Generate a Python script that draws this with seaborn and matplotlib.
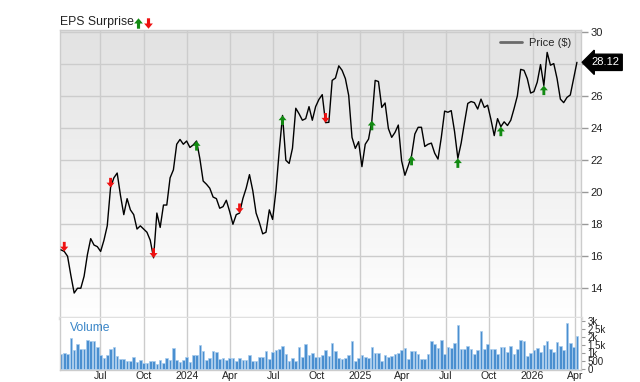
import numpy as np
import pandas as pd
import matplotlib
matplotlib.use("Agg")
import matplotlib.pyplot as plt
import matplotlib.dates as mdates
from matplotlib.path import Path
from matplotlib.lines import Line2D
from matplotlib.colors import LinearSegmentedColormap
from matplotlib.ticker import FuncFormatter
import seaborn as sns

# ---------------- data ----------------
start_date = "2023-04-09"
price = [
    16.4, 16.3, 16.0, 14.8, 13.7, 14.0, 14.0, 14.75, 16.1, 17.1,
    16.7, 16.6, 16.3, 17.0, 17.9, 20.3, 20.9, 21.2, 19.8, 18.6,
    19.6, 18.9, 18.6, 17.7, 17.9, 17.7, 17.5, 17.0, 15.9, 18.7,
    17.8, 19.2, 19.2, 20.9, 21.4, 23.0, 23.3, 23.0, 23.2, 22.8,
    22.96, 23.2, 22.1, 20.7, 20.5, 20.25, 19.7, 19.6, 19.0, 19.1,
    19.5, 18.8, 18.0, 18.6, 18.7, 19.6, 20.25, 21.1, 20.1, 18.7,
    18.1, 17.4, 17.5, 18.9, 18.3, 20.1, 22.6, 24.8, 22.0, 21.8,
    22.75, 25.25, 24.9, 24.5, 24.6, 25.35, 24.5, 25.35, 25.8, 26.1,
    24.35, 24.37, 26.99, 27.14, 27.9, 27.62, 27.1, 26.05, 23.43, 22.74,
    23.16, 21.6, 23.0, 23.32, 24.47, 26.99, 26.92, 25.3, 25.58, 23.98,
    23.43, 23.74, 24.2, 21.96, 21.06, 21.65, 22.28, 23.64, 24.06, 24.06,
    22.86, 23.0, 23.07, 22.44, 22.07, 23.43, 25.07, 25.0, 25.1, 23.8,
    22.12, 23.07, 24.34, 25.55, 25.67, 25.6, 25.2, 25.82, 25.3, 25.44,
    24.55, 23.54, 24.6, 24.1, 24.4, 24.17, 24.5, 25.23, 26.03, 27.68,
    27.62, 27.1, 26.2, 26.29, 26.88, 27.98, 26.67, 28.74, 27.94, 28.04,
    27.1, 25.82, 25.6, 25.93, 26.08, 27.1, 28.12,
]
volume_k = [
    0.94, 0.99, 0.94, 1.93, 1.19, 1.56, 1.25, 1.25, 1.81, 1.72,
    1.77, 1.38, 0.86, 0.70, 0.90, 1.25, 1.36, 0.84, 0.66, 0.62,
    0.49, 0.53, 0.76, 0.43, 0.57, 0.37, 0.37, 0.53, 0.53, 0.33,
    0.57, 0.37, 0.70, 0.55, 1.31, 0.57, 0.47, 0.57, 0.74, 0.47,
    0.90, 0.86, 1.52, 1.11, 0.57, 0.70, 1.15, 1.05, 0.66, 0.68,
    0.57, 0.68, 0.68, 0.53, 0.68, 0.55, 0.55, 0.86, 0.53, 0.53,
    0.74, 0.74, 1.15, 0.66, 1.07, 1.19, 1.25, 1.46, 0.94, 0.49,
    0.70, 0.53, 1.36, 0.78, 1.56, 0.88, 1.03, 0.74, 0.78, 0.86,
    1.17, 0.82, 1.64, 1.11, 0.70, 0.62, 0.70, 0.88, 1.72, 0.53,
    0.70, 0.90, 0.76, 0.70, 1.40, 1.01, 0.99, 0.49, 0.90, 0.74,
    0.82, 0.94, 1.01, 1.19, 1.31, 0.62, 1.11, 1.11, 0.92, 0.64,
    0.64, 0.97, 1.75, 1.58, 1.29, 1.81, 0.94, 1.36, 1.31, 1.62,
    2.71, 1.25, 1.25, 1.42, 1.25, 0.97, 1.21, 2.38, 1.25, 1.56,
    1.27, 1.27, 0.94, 1.36, 1.40, 1.07, 1.42, 0.94, 1.27, 1.81,
    1.72, 0.82, 0.99, 1.19, 1.31, 1.07, 1.50, 1.77, 1.23, 1.05,
    1.68, 1.42, 1.21, 2.85, 1.62, 1.38, 2.03,
]
eps_beat_idx = [41, 67, 94, 106, 120, 133, 146]
eps_miss_idx = [1, 15, 28, 54, 80]
price_ticks = [14, 16, 18, 20, 22, 24, 26, 28, 30]
vol_ticks = [0, 0.5, 1.0, 1.5, 2.0, 2.5, 3.0]
vol_tick_labels = ["0", "500", "1k", "1.5k", "2k", "2.5k", "3k"]
title_text = "EPS Surprise"
legend_label = "Price ($)"
volume_label = "Volume"
last_price_label = "28.12"

# ---------------- style ----------------
sns.set_theme(style="white")
plt.rcParams["font.family"] = ["Liberation Sans", "DejaVu Sans"]

GRID = "#cccccc"
TXT = "#222222"
GREEN = "#128a12"
RED = "#ee1111"

dates = pd.date_range(start_date, periods=len(price), freq="7D")
df = pd.DataFrame({"date": dates, "price": price, "volume": volume_k})

W, H = 640, 382
fig = plt.figure(figsize=(W / 100, H / 100), dpi=100)
L, Rr = 60 / W, 580.7 / W
ax = fig.add_axes([L, 1 - 318 / H, Rr - L, (318 - 30) / H])
axv = fig.add_axes([L, 1 - 370 / H, Rr - L, (370 - 318) / H])

# background gradient in price panel
cmap = LinearSegmentedColormap.from_list("bg", ["#e2e2e2", "#ffffff"])
ax.imshow(np.linspace(0, 1, 256).reshape(-1, 1), cmap=cmap, aspect="auto",
          extent=[0, 1, 0, 1], transform=ax.transAxes, zorder=0)

# price line
sns.lineplot(data=df, x="date", y="price", ax=ax, color="black",
             linewidth=1.0, legend=False, zorder=3)

# arrow markers (tip at the point)
up_tip = Path([(0, 0), (-0.42, -0.5), (-0.15, -0.5), (-0.15, -1.0),
               (0.15, -1.0), (0.15, -0.5), (0.42, -0.5), (0, 0)])
down_tip = Path([(0, 0), (-0.42, 0.5), (-0.15, 0.5), (-0.15, 1.0),
                 (0.15, 1.0), (0.15, 0.5), (0.42, 0.5), (0, 0)])
beat = df.iloc[eps_beat_idx]
miss = df.iloc[eps_miss_idx]
sns.scatterplot(data=beat, x="date", y="price", ax=ax, marker=up_tip,
                s=190, color=GREEN, edgecolor="none", zorder=4, legend=False)
sns.scatterplot(data=miss, x="date", y="price", ax=ax, marker=down_tip,
                s=190, color=RED, edgecolor="none", zorder=4, legend=False)

# volume bars
axv.bar(df["date"], df["volume"], width=5.6, color="#4a8fd0",
        edgecolor="#a9cdee", linewidth=0.5, zorder=2)

# limits
x0 = dates[0] - pd.Timedelta(days=2)
x1 = dates[0] + pd.Timedelta(days=1100)
for a in (ax, axv):
    a.set_xlim(x0, x1)
ax.set_ylim(12.14, 30.14)
axv.set_ylim(-0.04, 3.17)

# x axis: quarter gridlines
loc = mdates.MonthLocator(bymonth=[1, 4, 7, 10])
fmt = FuncFormatter(lambda v, p: (mdates.num2date(v).strftime("%Y")
                                  if mdates.num2date(v).month == 1
                                  else mdates.num2date(v).strftime("%b")))
for a in (ax, axv):
    a.xaxis.set_major_locator(loc)
    a.xaxis.set_major_formatter(fmt)
    a.grid(True, axis="x", color=GRID, linewidth=1.0)
    a.set_axisbelow(True)
    a.set_xlabel("")
    a.set_ylabel("")
    a.set_facecolor("white")
ax.grid(True, axis="y", color=GRID, linewidth=1.0)
ax.tick_params(axis="x", labelbottom=False, length=0)
axv.tick_params(axis="x", length=0, labelsize=7.6, labelcolor=TXT, pad=0.8)
ax.patch.set_alpha(0)

# y axes on the right
ax.yaxis.tick_right()
ax.set_yticks(price_ticks)
ax.set_yticklabels([str(t) for t in price_ticks])
ax.tick_params(axis="y", right=True, length=5, width=1, color="#999999",
               labelsize=8, labelcolor=TXT, pad=2)
axv.yaxis.tick_right()
axv.set_yticks(vol_ticks)
axv.set_yticklabels(vol_tick_labels)
axv.tick_params(axis="y", right=True, length=3, width=0.8, color="#999999",
                labelsize=7, labelcolor=TXT, pad=2)
axv.grid(False, axis="y")

for a in (ax, axv):
    for s in a.spines.values():
        s.set_color(GRID)
        s.set_linewidth(1.0)
ax.spines["bottom"].set_color("#e0e0e0")
ax.spines["bottom"].set_linewidth(2.5)
axv.spines["top"].set_visible(False)

# legend
ax.legend(handles=[Line2D([], [], color="#6a6a6a", lw=2)], labels=[legend_label],
          loc="upper right", frameon=False, fontsize=8, handlelength=2.0,
          handletextpad=0.6, borderaxespad=0.3, bbox_to_anchor=(0.997, 1.0))

# last price tag
ax.annotate(last_price_label, xy=(1, price[-1]), xycoords=("axes fraction", "data"),
            xytext=(7.5, 0), textcoords="offset points", ha="left", va="center",
            color="white", fontsize=8,
            bbox=dict(boxstyle="larrow,pad=0.28", fc="black", ec="black"),
            annotation_clip=False, zorder=6)

# volume label
axv.text(0.019, 0.92, volume_label, transform=axv.transAxes, color="#3a86c8",
         fontsize=8.7, va="top", ha="left")

# title with arrows
fig.text(L, 1 - 22 / H, title_text, fontsize=8.8, color=TXT, va="center", ha="left")
up_c = Path([(0, 0.5), (-0.42, 0.0), (-0.15, 0.0), (-0.15, -0.5),
             (0.15, -0.5), (0.15, 0.0), (0.42, 0.0), (0, 0.5)])
down_c = Path([(0, -0.5), (-0.42, 0.0), (-0.15, 0.0), (-0.15, 0.5),
               (0.15, 0.5), (0.15, 0.0), (0.42, 0.0), (0, -0.5)])
fig.add_artist(Line2D([138 / W], [1 - 22.5 / H], marker=up_c, markersize=7.5,
                      color=GREEN, markeredgewidth=0, transform=fig.transFigure))
fig.add_artist(Line2D([148 / W], [1 - 22.5 / H], marker=down_c, markersize=7.5,
                      color=RED, markeredgewidth=0, transform=fig.transFigure))

fig.savefig("out.png", dpi=100)
